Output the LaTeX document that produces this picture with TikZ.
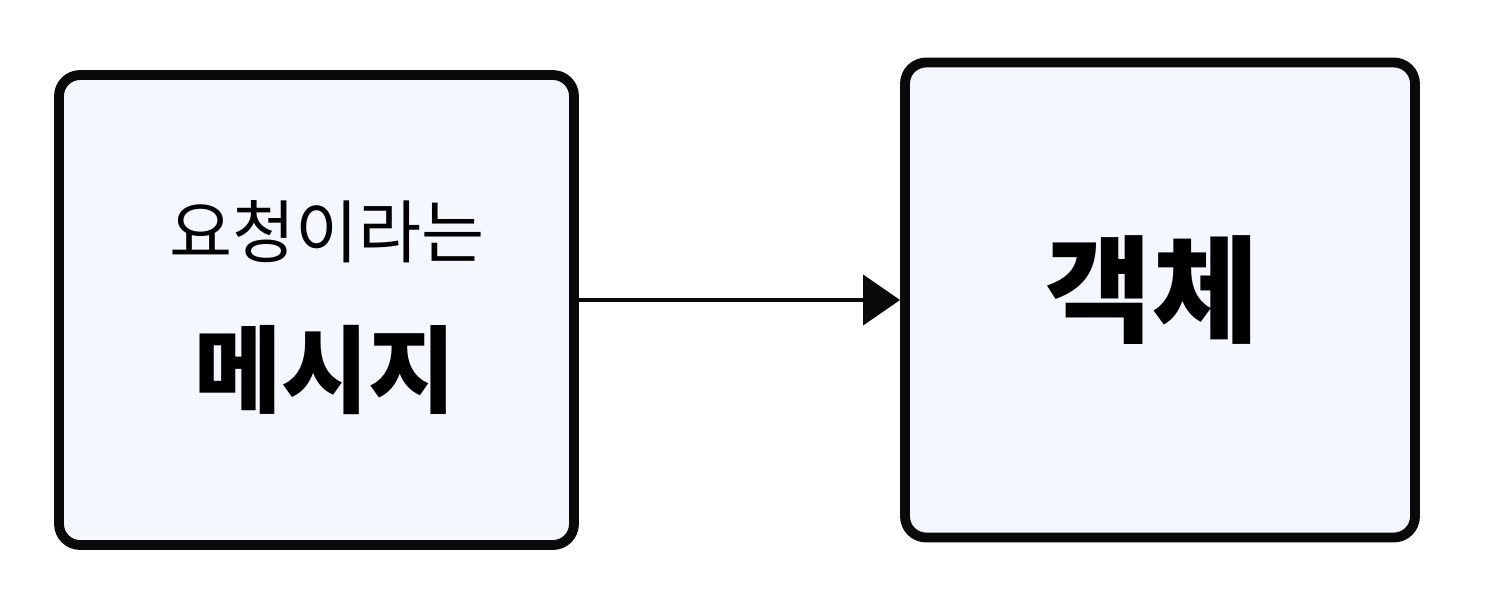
\documentclass[tikz,border=0pt]{standalone}
\usepackage{fontspec}
\usepackage{xcolor}
\usepackage{tikz}
\usetikzlibrary{
  arrows.meta,
  positioning
}
\newfontfamily\krfont{Noto Sans CJK KR}
\definecolor{boxfill}{HTML}{F4F7FD}
\definecolor{inkblack}{HTML}{0A0A0A}

\begin{document}
\begin{tikzpicture}[
  sketchbox/.style={draw=inkblack, fill=boxfill, line width=2.8pt, rounded corners=6pt},
  link/.style={draw=inkblack, line width=1.2pt, -{Triangle[length=0.37cm, width=0.5cm]}}
]
  \useasboundingbox (0,0) rectangle (15,6.02);
  % two boxes
  \node[sketchbox, minimum width=5.15cm, minimum height=4.7cm] (msg) at (3.165,2.92) {};
  \node[sketchbox, minimum width=5.1cm, minimum height=4.75cm] (obj) at (11.6,3.02) {};
  % texts
  \node[font=\krfont\fontsize{19.5}{22}\selectfont, inner sep=0pt] (req) at (3.27,3.70) {요청이라는};
  \node[font=\krfont\bfseries\fontsize{27}{30}\selectfont, inner sep=0pt] (msgtext) at (3.25,2.32) {메시지};
  \node[font=\krfont\bfseries\fontsize{33}{36}\selectfont, inner sep=0pt] (objtext) at (11.52,3.12) {객체};
  % connector
  \draw[link] (msg.east |- obj.west) -- (obj.west);
\end{tikzpicture}
\end{document}
